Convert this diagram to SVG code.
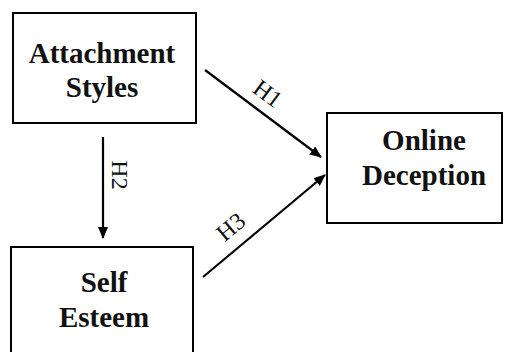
<svg xmlns="http://www.w3.org/2000/svg" width="505" height="352" viewBox="0 0 505 352">
<style>
.box{fill:#fff;stroke:#000;stroke-width:2}
.t{font-family:"Liberation Serif","Times New Roman",serif;font-weight:bold;font-size:29px;text-anchor:middle;fill:#111}
.l{font-family:"Liberation Serif","Times New Roman",serif;font-size:24px;text-anchor:middle;fill:#111}
.c{stroke:#000;stroke-width:2.2;fill:none;marker-end:url(#ah)}
</style>
<defs>
<marker id="ah" markerWidth="12" markerHeight="10" refX="11" refY="5" orient="auto" markerUnits="userSpaceOnUse">
<path d="M0,0 L12,5 L0,10 Z" fill="#000"/>
</marker>
</defs>
<rect width="505" height="352" fill="#fff"/>
<g id="attachment">
<rect class="box" x="13" y="13" width="183" height="110"/>
<text class="t" x="102" y="63">Attachment</text>
<text class="t" x="102" y="97">Styles</text>
</g>
<g id="online">
<rect class="box" x="327" y="113" width="175" height="110"/>
<text class="t" x="424" y="150">Online</text>
<text class="t" x="424" y="185">Deception</text>
</g>
<g id="self">
<rect class="box" x="11" y="247" width="182" height="110"/>
<text class="t" x="104" y="292">Self</text>
<text class="t" x="104" y="327">Esteem</text>
</g>
<g id="connectors">
<line class="c" x1="205" y1="70" x2="321" y2="157"/>
<line class="c" x1="103" y1="137" x2="103" y2="238"/>
<line class="c" x1="203" y1="277" x2="325" y2="175"/>
<text class="l" transform="translate(263,100) rotate(37)">H1</text>
<text class="l" transform="translate(112,175) rotate(90)">H2</text>
<text class="l" transform="translate(236,233) rotate(-40)">H3</text>
</g>
</svg>
